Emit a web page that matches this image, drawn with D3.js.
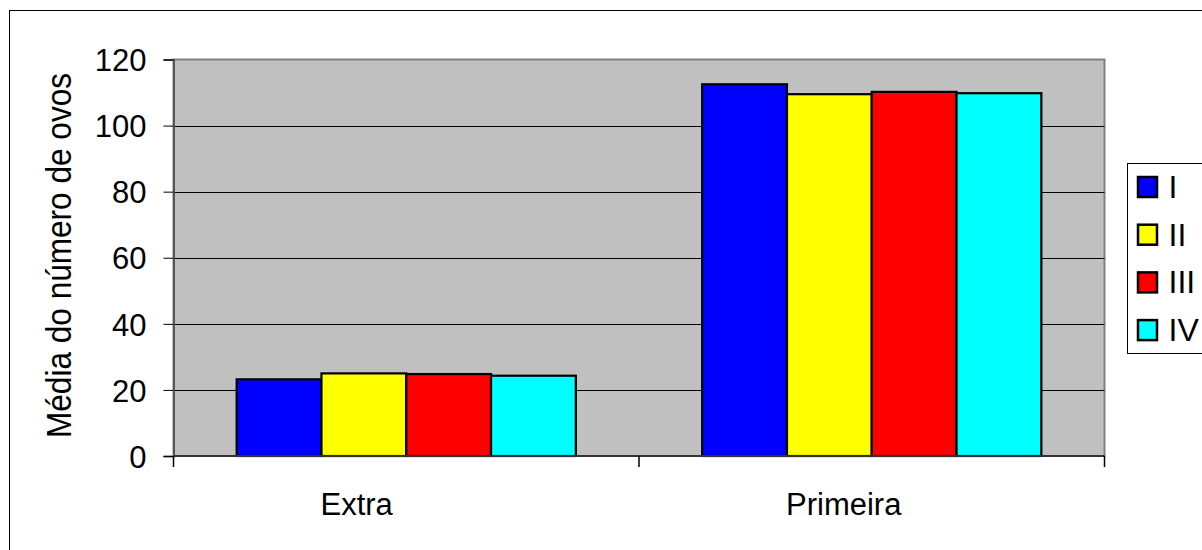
<!DOCTYPE html>
<html>
<head>
<meta charset="utf-8">
<script src="https://cdn.jsdelivr.net/npm/d3@7"></script>
<style>
  html, body { margin: 0; padding: 0; background: #fff; }
  svg { display: block; }
  text { font-family: "Liberation Sans", Arial, sans-serif; fill: #000; }
</style>
</head>
<body>
<svg id="chart" width="1202" height="550"></svg>
<script>
const categories = ["Extra", "Primeira"];
const seriesNames = ["I", "II", "III", "IV"];
const seriesColors = ["#0000FF", "#FFFF00", "#FF0000", "#00FFFF"];
const valuesI   = [23.2, 112.5];
const valuesII  = [25.0, 109.5];
const valuesIII = [24.8, 110.2];
const valuesIV  = [24.3, 109.8];
const yTicks = [0, 20, 40, 60, 80, 100, 120];
const yTitle = "Média do número de ovos";

const seriesValues = [valuesI, valuesII, valuesIII, valuesIV];

const svg = d3.select("#chart");
const plot = { left: 173.5, right: 1104.5, top: 59.5, bottom: 456 };

// outer border
svg.append("rect")
  .attr("x", 9.5).attr("y", 10.5)
  .attr("width", 1300).attr("height", 600)
  .attr("fill", "#fff").attr("stroke", "#000").attr("stroke-width", 1);

const x0 = d3.scaleBand().domain(categories).range([plot.left, plot.right]).padding(0);
const x1 = d3.scaleBand().domain(seriesNames).range([0, x0.bandwidth()])
  .paddingInner(0).paddingOuter(0.745);
const y = d3.scaleLinear().domain([0, 120]).range([plot.bottom, plot.top]);

// plot background
svg.append("rect")
  .attr("x", plot.left).attr("y", plot.top)
  .attr("width", plot.right - plot.left).attr("height", plot.bottom - plot.top)
  .attr("fill", "#C0C0C0").attr("stroke", "#808080").attr("stroke-width", 2);

// gridlines
svg.append("g").selectAll("line")
  .data(yTicks.filter(t => t > 0 && t < 120))
  .join("line")
  .attr("x1", plot.left).attr("x2", plot.right)
  .attr("y1", d => Math.round(y(d)) + 0.5).attr("y2", d => Math.round(y(d)) + 0.5)
  .attr("stroke", "#000").attr("stroke-width", 1);

// bars
const groups = svg.append("g").selectAll("g")
  .data(categories)
  .join("g")
  .attr("transform", c => `translate(${x0(c)},0)`);

groups.selectAll("rect")
  .data((c, ci) => seriesNames.map((s, si) => ({ s, si, v: seriesValues[si][ci] })))
  .join("rect")
  .attr("x", d => x1(d.s))
  .attr("y", d => y(d.v))
  .attr("width", x1.bandwidth())
  .attr("height", d => y(0) - y(d.v))
  .attr("fill", d => seriesColors[d.si])
  .attr("stroke", "#000").attr("stroke-width", 2.2);

// y axis
const yAxis = d3.axisLeft(y).tickValues(yTicks).tickSize(10).tickPadding(17);
const ya = svg.append("g").attr("transform", `translate(${plot.left},0)`).call(yAxis);
ya.select(".domain").attr("stroke", "#555").attr("stroke-width", 2);
ya.selectAll(".tick line").attr("stroke", "#000");
ya.selectAll(".tick text")
  .style("font-family", '"Liberation Sans", Arial, sans-serif')
  .attr("font-size", 31).attr("fill", "#000").attr("dy", "0.36em");

// x axis
const xa = svg.append("g").attr("transform", `translate(0,${plot.bottom})`);
xa.append("line").attr("x1", plot.left).attr("x2", plot.right)
  .attr("y1", 0).attr("y2", 0).attr("stroke", "#333").attr("stroke-width", 2);
const xTickPos = categories.map(c => x0(c)).concat([x0(categories[categories.length - 1]) + x0.bandwidth()]);
xa.selectAll("line.tk").data(xTickPos).join("line").attr("class", "tk")
  .attr("x1", d => d).attr("x2", d => d).attr("y1", 0).attr("y2", 11)
  .attr("stroke", "#000").attr("stroke-width", 1.5);
xa.selectAll("text").data(categories).join("text")
  .attr("x", c => x0(c) + 147)
  .attr("y", 59)
  .attr("text-anchor", "start")
  .attr("font-size", 31)
  .text(c => c);

// y title
svg.append("text")
  .attr("transform", `translate(71,255.5) rotate(-90)`)
  .attr("text-anchor", "middle")
  .attr("font-size", 35)
  .attr("textLength", 365)
  .attr("lengthAdjust", "spacingAndGlyphs")
  .text(yTitle);

// legend
const lg = svg.append("g").attr("transform", "translate(1127.5,163.5)");
lg.append("rect").attr("x", 0).attr("y", 0).attr("width", 200).attr("height", 190)
  .attr("fill", "#fff").attr("stroke", "#000").attr("stroke-width", 1);
const items = lg.selectAll("g.it").data(seriesNames).join("g").attr("class", "it")
  .attr("transform", (d, i) => `translate(0,${i * 47.7})`);
items.append("rect")
  .attr("x", 10.5).attr("y", 13.5).attr("width", 19).attr("height", 20)
  .attr("fill", (d, i) => seriesColors[i]).attr("stroke", "#000").attr("stroke-width", 2.5);
items.append("text")
  .attr("x", 41).attr("y", 34.5)
  .attr("font-size", 32)
  .text(d => d);
</script>
</body>
</html>
